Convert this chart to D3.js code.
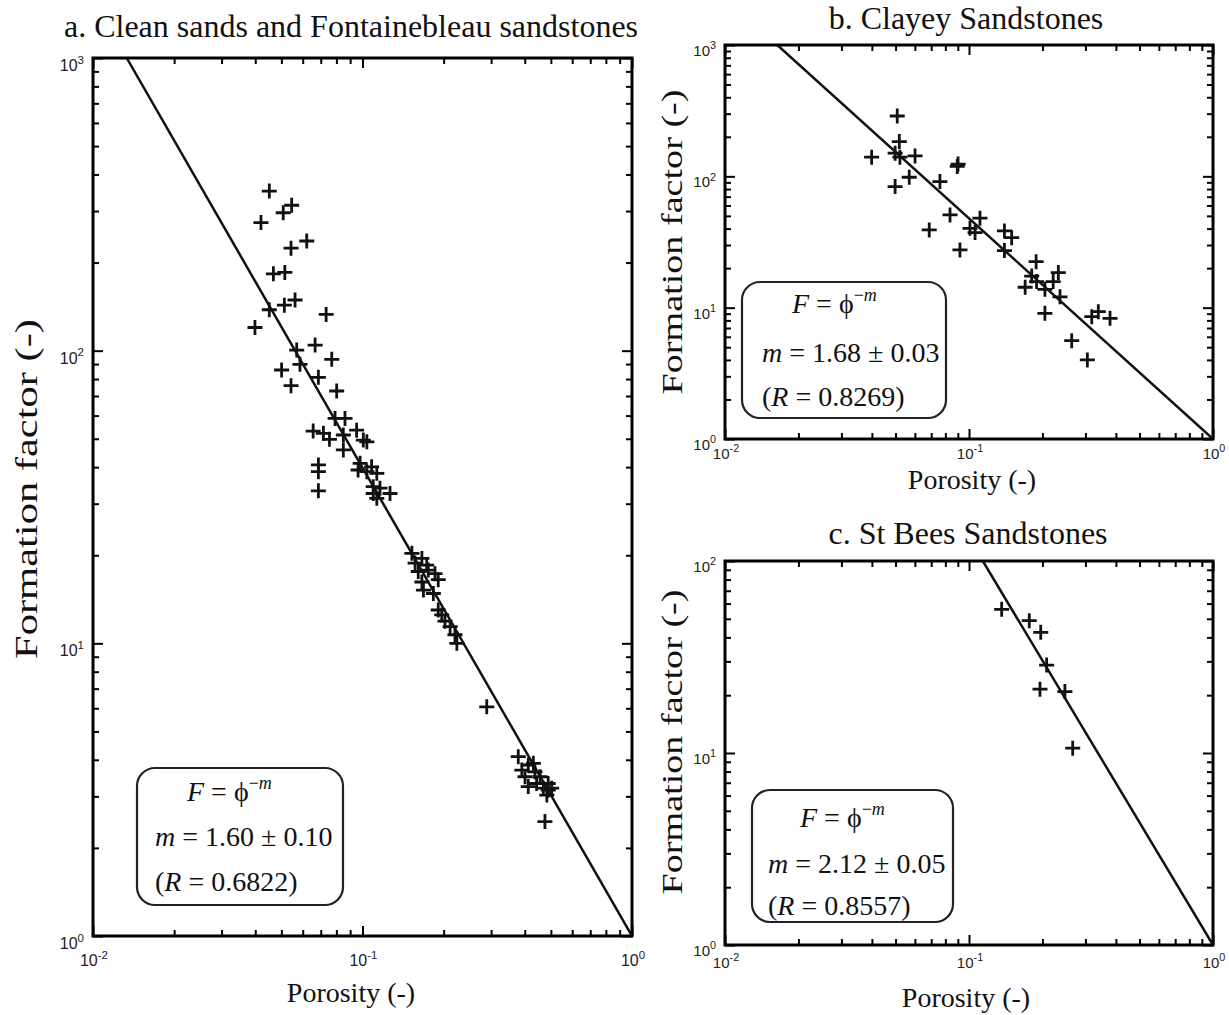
<!DOCTYPE html>
<html><head><meta charset="utf-8">
<script src="https://cdn.jsdelivr.net/npm/d3@7"></script>
<style>body{margin:0;background:#fff}svg{display:block}</style>
</head><body><svg id="c" width="1229" height="1015"></svg>
<script>
// ---------- data ----------
const titles = ["a. Clean sands and Fontainebleau sandstones", "b. Clayey Sandstones", "c. St Bees Sandstones"];
const xLabel = "Porosity (-)";
const yLabel = "Formation factor (-)";

const porosityA = [0.0451,0.0546,0.0508,0.0420,0.0621,0.0543,0.0467,0.0515,0.0562,0.0513,0.0451,0.0733,0.0399,0.0570,0.0667,0.0769,0.0586,0.0501,0.0686,0.0543,0.0802,0.0791,0.0861,0.0656,0.0716,0.0754,0.0849,0.0951,0.1007,0.1038,0.0849,0.0686,0.0686,0.0980,0.0963,0.1081,0.1038,0.1130,0.0686,0.1096,0.1161,0.1265,0.1096,0.1130,
  0.1525,0.1661,0.1567,0.1731,0.1610,0.1754,0.1858,0.1910,0.1661,0.1683,0.1832,0.1910,0.1968,0.2023,0.2114,0.2203,0.2239,
  0.2891,0.3784,0.3902,0.4121,0.4306,0.4009,0.4365,0.4560,0.4121,0.4426,0.4690,0.4887,0.4887,0.4831,0.5035,0.4753];
const formationA = [351,314,296,274,237,224,183,185,149,143,138,133,120,100.5,104.5,93.4,89.8,85.9,81.1,75.9,72.8,58.7,58.7,53.1,52.2,49.8,51.5,53.5,49.5,48.8,45.8,40.7,38.6,41.2,39.1,40.1,38.6,38.1,33.2,34.3,33.9,32.5,32.5,31.3,
  20.3,19.5,18.8,18.5,17.6,17.8,17.3,16.5,16.2,15.2,14.8,13.0,12.5,11.9,11.4,10.7,10.0,
  6.07,4.10,3.69,3.84,3.89,3.50,3.64,3.50,3.24,3.32,3.20,3.32,3.15,3.03,3.20,2.46];

const porosityB = [0.0508,0.0518,0.0498,0.0521,0.0399,0.0601,0.0569,0.0498,0.0895,0.0902,0.0760,0.0836,0.0687,0.1109,0.1009,0.1059,0.0918,0.1397,0.1496,0.1397,0.1884,0.1807,0.1699,0.1892,0.2047,0.2323,0.2213,0.2360,0.2047,0.3185,0.3388,0.3784,0.2636,0.3055];
const formationB = [288,184,150,140,140,143,98.4,83.5,119,124,91.2,50.8,39.1,48.0,40.2,37.3,27.5,38.4,34.1,27.2,22.4,17.4,14.3,15.8,13.8,18.5,15.8,12.1,9.06,8.54,9.32,8.30,5.61,4.00];

const porosityC = [0.1361,0.1766,0.1968,0.2080,0.1954,0.2472,0.2661];
const formationC = [56.0,48.9,42.5,28.7,21.5,20.9,10.6];

const exponentM = [1.60, 1.68, 2.12];
const mValueText = ["1.60", "1.68", "2.12"];
const mErrText = ["0.10", "0.03", "0.05"];
const rValueText = ["0.6822", "0.8269", "0.8557"];

const xTickExp = [-2, -1, 0];
const yTickExpA = [0, 1, 2, 3];
const yTickExpB = [0, 1, 2, 3];
const yTickExpC = [0, 1, 2];

// ---------- layout ----------
const SERIF = "'Liberation Serif','Times New Roman',serif";
const SANS = "'Liberation Sans',Arial,sans-serif";
const svg = d3.select("#c");

const panels = [
  {px: porosityA, fy: formationA, yExp: yTickExpA, x0: 93, x1: 632, y0: 58, y1: 936,
   title: {x: 351, y: 37, fs: 32}, xl: {x: 351, y: 1002, fs: 28}, yl: {x: 37, y: 489, fs: 32, len: 340}, tickFs: 16, yLabOff: 13, xLabOff: 30,
   box: {x: 137, y: 768, w: 206, h: 137, tx1: 187, tx2: 155, b1: 801, b2: 846, b3: 891}},
  {px: porosityB, fy: formationB, yExp: yTickExpB, x0: 725, x1: 1213, y0: 45, y1: 439,
   title: {x: 966, y: 29, fs: 32}, xl: {x: 972, y: 489, fs: 28}, yl: {x: 682, y: 242, fs: 30, len: 305}, tickFs: 15, yLabOff: 11, xLabOff: 20,
   box: {x: 742, y: 282, w: 204, h: 136, tx1: 792, tx2: 762, b1: 313, b2: 362, b3: 406}},
  {px: porosityC, fy: formationC, yExp: yTickExpC, x0: 725, x1: 1213, y0: 561, y1: 945,
   title: {x: 968, y: 544, fs: 32}, xl: {x: 966, y: 1007, fs: 28}, yl: {x: 682, y: 742, fs: 30, len: 305}, tickFs: 15, yLabOff: 11, xLabOff: 23,
   box: {x: 752, y: 790, w: 201, h: 132, tx1: 800, tx2: 768, b1: 827, b2: 873, b3: 915}}
];

function minorTicks(lo, hi) {
  const out = [];
  for (let e = lo; e < hi; e++) for (let k = 2; k <= 9; k++) out.push(k * Math.pow(10, e));
  return out;
}

function supLabel(sel, base, exp, fs) {
  sel.append("tspan").text(base);
  sel.append("tspan").attr("dy", -fs * 0.45).attr("font-size", fs * 0.72).text(exp);
}

panels.forEach((p, i) => {
  const yMax = d3.max(p.yExp);
  const x = d3.scaleLog().domain([0.01, 1]).range([p.x0, p.x1]);
  const y = d3.scaleLog().domain([1, Math.pow(10, yMax)]).range([p.y1, p.y0]);
  const g = svg.append("g");
  const clipId = "clip" + i;
  svg.append("clipPath").attr("id", clipId).append("rect")
    .attr("x", p.x0).attr("y", p.y0).attr("width", p.x1 - p.x0).attr("height", p.y1 - p.y0);

  const xMajor = xTickExp.map(e => Math.pow(10, e));
  const yMajor = p.yExp.map(e => Math.pow(10, e));
  const xMinor = minorTicks(-2, 0);
  const yMinor = minorTicks(0, yMax);

  const styleAxis = a => { a.select(".domain").remove(); a.selectAll("line").attr("stroke", "#000").attr("stroke-width", 2); a.selectAll("text").remove(); };
  const axes = [
    [d3.axisBottom(x), `translate(0,${p.y1})`, xMajor, xMinor],
    [d3.axisTop(x), `translate(0,${p.y0})`, xMajor, xMinor],
    [d3.axisLeft(y), `translate(${p.x0},0)`, yMajor, yMinor],
    [d3.axisRight(y), `translate(${p.x1},0)`, yMajor, yMinor]
  ];
  axes.forEach(([ax, tr, maj, min]) => {
    g.append("g").attr("transform", tr).call(ax.tickValues(min).tickSize(-6).tickFormat("")).call(styleAxis);
    g.append("g").attr("transform", tr).call(ax.tickValues(maj).tickSize(-10).tickFormat("")).call(styleAxis);
  });

  // frame
  g.append("rect").attr("x", p.x0).attr("y", p.y0).attr("width", p.x1 - p.x0).attr("height", p.y1 - p.y0)
    .attr("fill", "none").attr("stroke", "#000").attr("stroke-width", 3);

  // tick labels
  p.yExp.forEach(e => {
    const t = g.append("text").attr("x", p.x0 - 9).attr("y", y(Math.pow(10, e)) + p.yLabOff)
      .attr("text-anchor", "end").attr("font-family", SANS).attr("font-size", p.tickFs).attr("fill", "#222");
    supLabel(t, "10", String(e), p.tickFs);
  });
  xTickExp.forEach(e => {
    const t = g.append("text").attr("x", x(Math.pow(10, e)) + 1).attr("y", p.y1 + p.xLabOff)
      .attr("text-anchor", "middle").attr("font-family", SANS).attr("font-size", p.tickFs).attr("fill", "#222");
    supLabel(t, "10", String(e), p.tickFs);
  });

  // fit line F = phi^-m
  const m = exponentM[i];
  const phiLo = Math.pow(10, -yMax / m);
  const line = d3.line().x(d => x(d[0])).y(d => y(d[1]));
  g.append("path").attr("clip-path", `url(#${clipId})`)
    .attr("d", line([[phiLo, Math.pow(phiLo, -m)], [1, 1]]))
    .attr("fill", "none").attr("stroke", "#111").attr("stroke-width", 2.5);

  // data crosses
  const pts = p.px.map((v, k) => [v, p.fy[k]]);
  g.append("g").selectAll("path").data(pts).join("path")
    .attr("transform", d => `translate(${x(d[0])},${y(d[1])})`)
    .attr("d", "M-7.5,0H7.5M0,-7.5V7.5")
    .attr("stroke", "#111").attr("stroke-width", 2.8).attr("fill", "none");

  // titles & axis labels
  g.append("text").attr("x", p.title.x).attr("y", p.title.y).attr("text-anchor", "middle")
    .attr("font-family", SERIF).attr("font-size", p.title.fs).attr("fill", "#111").text(titles[i]);
  g.append("text").attr("x", p.xl.x).attr("y", p.xl.y).attr("text-anchor", "middle")
    .attr("font-family", SERIF).attr("font-size", p.xl.fs).attr("fill", "#111").text(xLabel);
  g.append("text").attr("transform", `translate(${p.yl.x},${p.yl.y}) rotate(-90)`).attr("text-anchor", "middle")
    .attr("font-family", SERIF).attr("font-size", p.yl.fs).attr("fill", "#111")
    .attr("textLength", p.yl.len).attr("lengthAdjust", "spacingAndGlyphs").text(yLabel);

  // formula box
  const b = p.box;
  g.append("rect").attr("x", b.x).attr("y", b.y).attr("width", b.w).attr("height", b.h).attr("rx", 18)
    .attr("fill", "#fff").attr("stroke", "#222").attr("stroke-width", 2.2);
  const fs = 28;
  const t1 = g.append("text").attr("x", b.tx1).attr("y", b.b1).attr("font-family", SERIF).attr("font-size", fs).attr("fill", "#111");
  t1.append("tspan").attr("font-style", "italic").text("F");
  t1.append("tspan").text(" = \u03D5");
  t1.append("tspan").attr("dy", -12).attr("font-size", 18).text("\u2212");
  t1.append("tspan").attr("font-size", 18).attr("font-style", "italic").text("m");
  const t2 = g.append("text").attr("x", b.tx2).attr("y", b.b2).attr("font-family", SERIF).attr("font-size", fs).attr("fill", "#111");
  t2.append("tspan").attr("font-style", "italic").text("m");
  t2.append("tspan").text(` = ${mValueText[i]} \u00B1 ${mErrText[i]}`);
  const t3 = g.append("text").attr("x", b.tx2).attr("y", b.b3).attr("font-family", SERIF).attr("font-size", fs).attr("fill", "#111");
  t3.append("tspan").text("(");
  t3.append("tspan").attr("font-style", "italic").text("R");
  t3.append("tspan").text(` = ${rValueText[i]})`);
});
</script>
</body></html>
